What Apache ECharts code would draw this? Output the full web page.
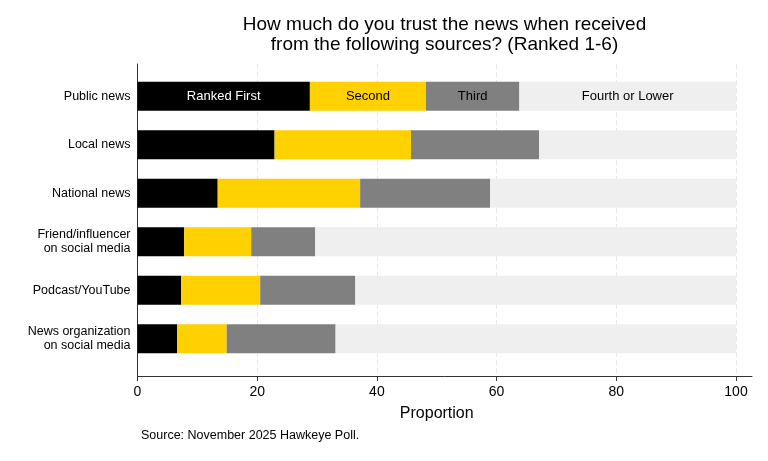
<!DOCTYPE html>
<html>
<head>
<meta charset="utf-8">
<script src="https://cdn.jsdelivr.net/npm/echarts@6/dist/echarts.min.js"></script>
<style>
html, body { margin: 0; padding: 0; background: #fff; }
#chart { width: 768px; height: 461px; }
</style>
</head>
<body>
<div id="chart"></div>
<script>
var categories = ['Public news', 'Local news', 'National news',
  'Friend/influencer\non social media', 'Podcast/YouTube',
  'News organization\non social media'];
var seriesNames = ['Ranked First', 'Second', 'Third', 'Fourth or Lower'];
var rankedFirst = [28.8, 22.9, 13.4, 7.8, 7.3, 6.6];
var second = [19.4, 22.8, 23.8, 11.2, 13.2, 8.3];
var third = [15.6, 21.4, 21.7, 10.7, 15.9, 18.2];
var fourthOrLower = [36.2, 32.9, 41.1, 70.3, 63.6, 66.9];
var xTicks = [0, 20, 40, 60, 80, 100];

var colors = ['#000000', '#ffd100', '#808080', '#efefef'];
var labelColors = ['#ffffff', '#000000', '#000000', '#000000'];
var font = '"Liberation Sans", Arial, sans-serif';

function makeSeries(idx, values) {
  return {
    name: seriesNames[idx],
    type: 'bar',
    stack: 'total',
    xAxisIndex: 1,
    yAxisIndex: 1,
    barWidth: 29,
    itemStyle: { color: colors[idx] },
    label: {
      show: false,
      formatter: '{a}',
      color: labelColors[idx],
      fontFamily: font,
      fontSize: 13
    },
    // only the top bar carries the segment names
    data: values.map(function (v, i) {
      return i === 0 ? { value: v, label: { show: true } } : v;
    }),
    animation: false
  };
}

var myChart = echarts.init(document.getElementById('chart'));
myChart.setOption({
  backgroundColor: '#fff',
  textStyle: { fontFamily: font },
  grid: [
    { left: 137.5, right: 32, top: 64, bottom: 85 },   // ticks, labels, gridlines
    { left: 137.5, right: 32, top: 72, bottom: 98 },   // bars
    { left: 137.5, right: 16, top: 64, bottom: 85 }    // frame lines
  ],
  xAxis: [
    {
      gridIndex: 0, type: 'value', min: 0, max: 100, interval: 20,
      axisLine: { show: false },
      axisTick: { show: true, length: 5, lineStyle: { color: '#333' } },
      axisLabel: { color: '#000', fontSize: 14, margin: 9, fontFamily: font,
        customValues: xTicks },
      splitLine: { show: true, lineStyle: { color: '#e8e8e8', type: [5, 3], width: 1 } },
      name: 'Proportion',
      nameLocation: 'middle',
      nameGap: 30,
      nameTextStyle: { color: '#000', fontSize: 16, fontFamily: font }
    },
    {
      gridIndex: 1, type: 'value', min: 0, max: 100, show: false
    },
    {
      gridIndex: 2, type: 'value', min: 0, max: 100,
      axisLine: { show: true, lineStyle: { color: '#333', width: 1 } },
      axisTick: { show: false }, axisLabel: { show: false }, splitLine: { show: false }
    }
  ],
  yAxis: [
    { gridIndex: 0, type: 'value', show: false },
    {
      gridIndex: 1, type: 'category', data: categories, inverse: true,
      axisLine: { show: false }, axisTick: { show: false },
      axisLabel: { color: '#000', fontSize: 12.5, margin: 7, lineHeight: 14,
        align: 'right', fontFamily: font }
    },
    {
      gridIndex: 2, type: 'value', min: 0, max: 1,
      axisLine: { show: true, lineStyle: { color: '#333', width: 1 } },
      axisTick: { show: false }, axisLabel: { show: false }, splitLine: { show: false }
    }
  ],
  graphic: [
    {
      type: 'text', x: 444.5, y: 15,
      style: {
        text: 'How much do you trust the news when received\nfrom the following sources? (Ranked 1-6)',
        fill: '#000', font: '19px ' + font, align: 'center', lineHeight: 20
      }
    },
    {
      type: 'text', x: 141, y: 429,
      style: { text: 'Source: November 2025 Hawkeye Poll.', fill: '#000', font: '12.5px ' + font }
    }
  ],
  series: [
    makeSeries(0, rankedFirst),
    makeSeries(1, second),
    makeSeries(2, third),
    makeSeries(3, fourthOrLower)
  ]
});
</script>
</body>
</html>
